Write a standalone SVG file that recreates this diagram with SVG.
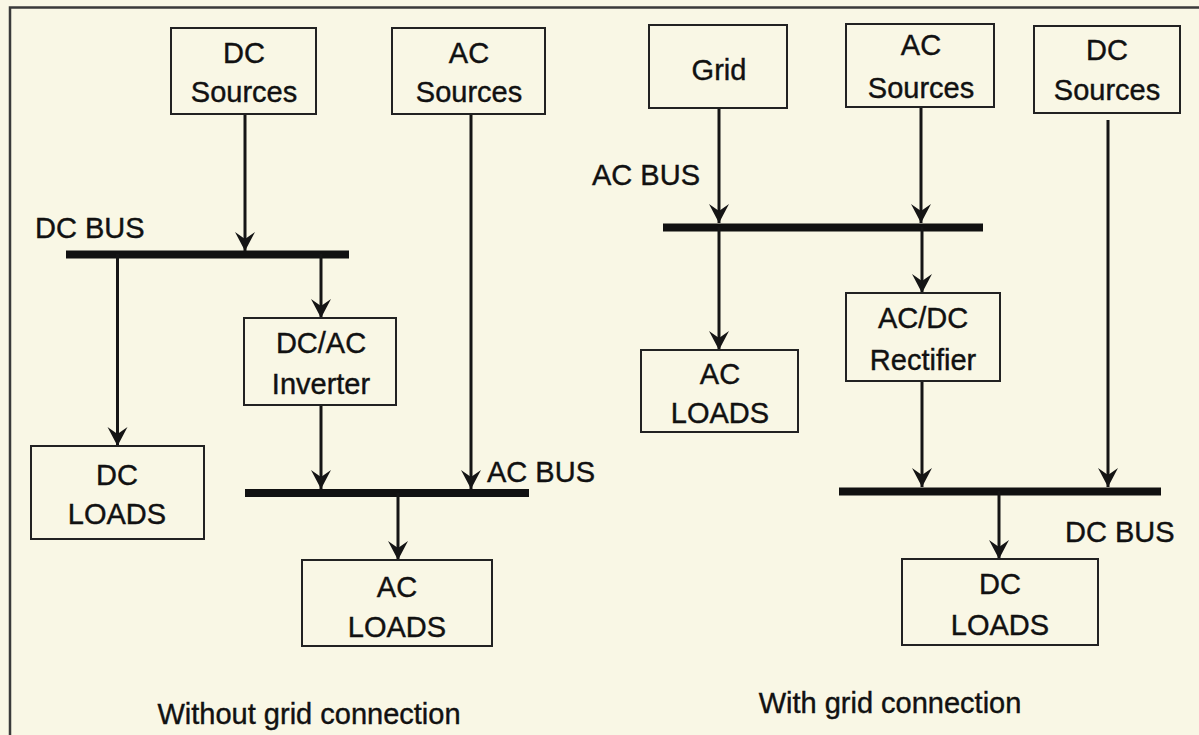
<svg xmlns="http://www.w3.org/2000/svg" width="1199" height="735" viewBox="0 0 1199 735">
  <defs>
    <style>
      .box { fill: none; stroke: #222; stroke-width: 2; }
      .lbl { font-family: "Liberation Sans", Arial, sans-serif; font-size: 29px; fill: #111; stroke: #111; stroke-width: 0.4; text-anchor: middle; }
      .lbl-l { font-family: "Liberation Sans", Arial, sans-serif; font-size: 29px; fill: #111; stroke: #111; stroke-width: 0.4; text-anchor: start; }
      .wire { fill: none; stroke: #151515; stroke-width: 3; marker-end: url(#arr); }
      .bus { fill: none; stroke: #111; stroke-width: 8; }
    </style>
    <marker id="arr" markerUnits="userSpaceOnUse" markerWidth="24" markerHeight="24" viewBox="-22 -12 24 24" refX="0" refY="0" orient="auto">
      <path d="M0,0 L-19,-10 L-12,0 L-19,10 Z" fill="#151515"/>
    </marker>
  </defs>
  <rect x="0" y="0" width="1199" height="735" fill="#f9f7e5"/>
  <path d="M10,740 L10,7.5 L1199,7.5" fill="none" stroke="#3a3a3a" stroke-width="2.5"/>

  <g id="connectors">
    <line class="bus" x1="66" y1="254.5" x2="349" y2="254.5"/>
    <line class="bus" x1="245" y1="493" x2="529" y2="493"/>
    <line class="bus" x1="663" y1="227.5" x2="983" y2="227.5"/>
    <line class="bus" x1="839" y1="491.5" x2="1161" y2="491.5"/>

    <line class="wire" x1="245" y1="114" x2="245" y2="251"/>
    <line class="wire" x1="117.5" y1="254" x2="117.5" y2="446"/>
    <line class="wire" x1="321" y1="254" x2="321" y2="318"/>
    <line class="wire" x1="321" y1="405" x2="321" y2="489"/>
    <line class="wire" x1="471" y1="114" x2="471" y2="489"/>
    <line class="wire" x1="398" y1="493" x2="398" y2="560"/>

    <line class="wire" x1="719" y1="108" x2="719" y2="223"/>
    <line class="wire" x1="719" y1="227" x2="719" y2="350"/>
    <line class="wire" x1="921" y1="107" x2="921" y2="223"/>
    <line class="wire" x1="922" y1="227" x2="922" y2="293"/>
    <line class="wire" x1="922" y1="381" x2="922" y2="487"/>
    <line class="wire" x1="1108" y1="120" x2="1108" y2="487"/>
    <line class="wire" x1="999" y1="491" x2="999" y2="559"/>
  </g>

  <g id="dc-sources-left">
    <rect class="box" x="171" y="28" width="145" height="86"/>
    <text class="lbl" x="244" y="63">DC</text>
    <text class="lbl" x="244" y="102">Sources</text>
  </g>
  <g id="ac-sources-left">
    <rect class="box" x="392" y="28" width="153" height="86"/>
    <text class="lbl" x="469" y="63">AC</text>
    <text class="lbl" x="469" y="102">Sources</text>
  </g>
  <g id="dc-bus-left-label">
    <text class="lbl-l" x="35" y="238">DC BUS</text>
  </g>
  <g id="dc-ac-inverter">
    <rect class="box" x="244" y="318" width="152" height="87"/>
    <text class="lbl" x="321" y="353">DC/AC</text>
    <text class="lbl" x="321" y="394">Inverter</text>
  </g>
  <g id="dc-loads-left">
    <rect class="box" x="31" y="446" width="173" height="93"/>
    <text class="lbl" x="117" y="485">DC</text>
    <text class="lbl" x="117" y="524">LOADS</text>
  </g>
  <g id="ac-bus-left-label">
    <text class="lbl-l" x="487" y="482">AC BUS</text>
  </g>
  <g id="ac-loads-left">
    <rect class="box" x="302" y="560" width="190" height="86"/>
    <text class="lbl" x="397" y="597">AC</text>
    <text class="lbl" x="397" y="637">LOADS</text>
  </g>
  <g id="caption-left">
    <text class="lbl" x="309" y="724">Without grid connection</text>
  </g>

  <g id="grid">
    <rect class="box" x="649" y="25" width="138" height="83"/>
    <text class="lbl" x="719" y="80">Grid</text>
  </g>
  <g id="ac-sources-right">
    <rect class="box" x="846" y="24" width="148" height="83"/>
    <text class="lbl" x="921" y="55">AC</text>
    <text class="lbl" x="921" y="98">Sources</text>
  </g>
  <g id="dc-sources-right">
    <rect class="box" x="1034" y="26" width="146" height="87"/>
    <text class="lbl" x="1107" y="60">DC</text>
    <text class="lbl" x="1107" y="100">Sources</text>
  </g>
  <g id="ac-bus-right-label">
    <text class="lbl-l" x="592" y="185">AC BUS</text>
  </g>
  <g id="ac-loads-right">
    <rect class="box" x="641" y="350" width="157" height="82"/>
    <text class="lbl" x="720" y="384">AC</text>
    <text class="lbl" x="720" y="423">LOADS</text>
  </g>
  <g id="ac-dc-rectifier">
    <rect class="box" x="846" y="293" width="154" height="88"/>
    <text class="lbl" x="923" y="328">AC/DC</text>
    <text class="lbl" x="923" y="370">Rectifier</text>
  </g>
  <g id="dc-bus-right-label">
    <text class="lbl-l" x="1065" y="542">DC BUS</text>
  </g>
  <g id="dc-loads-right">
    <rect class="box" x="902" y="559" width="196" height="86"/>
    <text class="lbl" x="1000" y="594">DC</text>
    <text class="lbl" x="1000" y="635">LOADS</text>
  </g>
  <g id="caption-right">
    <text class="lbl" x="890" y="713">With grid connection</text>
  </g>
</svg>
